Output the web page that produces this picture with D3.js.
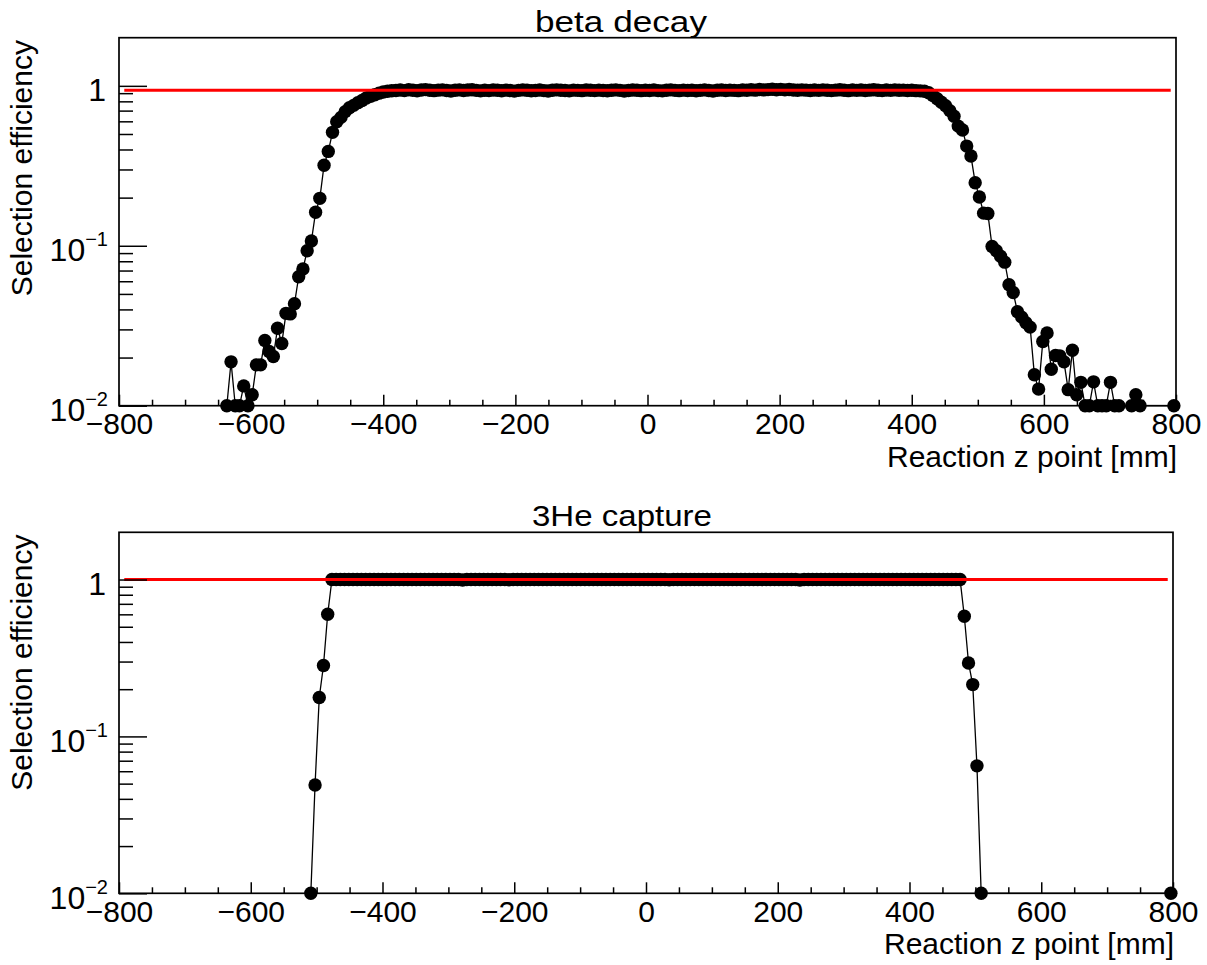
<!DOCTYPE html>
<html>
<head>
<meta charset="utf-8">
<script src="https://cdn.jsdelivr.net/npm/d3@7"></script>
<style>
  html, body { margin: 0; padding: 0; background: #fff; }
  svg { display: block; }
  text { font-family: "Liberation Sans", Arial, Helvetica, sans-serif; fill: #000; }
</style>
</head>
<body>
<svg id="chart" width="1207" height="965"></svg>
<script>
// z binning: 250 bins of 6.4 mm between -800 and 800 mm
const zLow = -800;
const binWidth = 6.4;

const xMajorTicks = [-800, -600, -400, -200, 0, 200, 400, 600, 800];
const xTickLabels = ["\u2212800", "\u2212600", "\u2212400", "\u2212200", "0", "200", "400", "600", "800"];
const yMajorTicks = [0.01, 0.1, 1];
const yTickExponents = [-2, -1, 0];
const yMinorTicks = [0.02, 0.03, 0.04, 0.05, 0.06, 0.07, 0.08, 0.09, 0.2, 0.3, 0.4, 0.5, 0.6, 0.7, 0.8, 0.9];

const panelTitles = ["beta decay", "3He capture"];
const xTitle = "Reaction z point [mm]";
const yTitle = "Selection efficiency";

// beta decay: efficiency per bin, starting at bin 25 (null = bin not in graph, 0 = empty efficiency)
const betaFirstBin = 25;
const betaEff = [
  0, 0.0188, 0, 0, 0.0133, 0, 0.0117, 0.018, 0.018, 0.0256,
  0.0218, 0.0203, 0.0305, 0.0245, 0.0378, 0.0375, 0.0434, 0.064, 0.0715, 0.093,
  0.107, 0.162, 0.198, 0.319, 0.389, 0.512, 0.596, 0.635, 0.69, 0.73,
  0.755, 0.785, 0.81, 0.84, 0.86, 0.88, 0.9, 0.915, 0.925, 0.932,
  0.936, 0.942, 0.934, 0.945, 0.939, 0.931, 0.941, 0.947, 0.938, 0.933,
  0.940, 0.944, 0.936, 0.929, 0.938, 0.943, 0.935, 0.941, 0.946, 0.937,
  0.930, 0.939, 0.934, 0.942, 0.938, 0.932, 0.940, 0.935, 0.927, 0.937,
  0.943, 0.938, 0.931, 0.936, 0.941, 0.934, 0.929, 0.938, 0.944, 0.939,
  0.935, 0.930, 0.940, 0.937, 0.933, 0.942, 0.938, 0.934, 0.940, 0.936,
  0.931, 0.939, 0.943, 0.937, 0.929, 0.935, 0.941, 0.938, 0.933, 0.939,
  0.936, 0.942, 0.934, 0.930, 0.938, 0.944, 0.937, 0.933, 0.940, 0.935,
  0.939, 0.932, 0.937, 0.943, 0.936, 0.929, 0.938, 0.941, 0.935, 0.940,
  0.937, 0.933, 0.942, 0.938, 0.945, 0.940, 0.949, 0.943, 0.947, 0.952,
  0.946, 0.951, 0.944, 0.948, 0.942, 0.938, 0.944, 0.940, 0.935, 0.941,
  0.937, 0.943, 0.939, 0.934, 0.940, 0.945, 0.938, 0.933, 0.941, 0.937,
  0.942, 0.936, 0.940, 0.945, 0.939, 0.934, 0.941, 0.937, 0.943, 0.938,
  0.940, 0.935, 0.938, 0.933, 0.930,
  0.925, 0.905, 0.87, 0.83, 0.79, 0.75, 0.70, 0.645, 0.56, 0.53,
  0.42, 0.364, 0.248, 0.202, 0.16, 0.159, 0.099, 0.093, 0.086, 0.079,
  0.057, 0.051, 0.0387, 0.0358, 0.033, 0.031, 0.0156, 0.0127, 0.0252, 0.0285,
  0.0169, 0.0206, 0.0205, 0.0188, 0.0126, 0.0222, 0.0117, 0.014, 0, 0,
  0.0141, 0, 0, 0, 0.014, 0, 0, null, null, 0,
  0.0117, 0, null, null, null, null, null, null, null, 0
];
const betaFit = 0.937;

// 3He capture: efficiency per bin, starting at bin 45
const he3FirstBin = 45;
const he3Eff = [
  0, 0.049, 0.177, 0.283, 0.601,
  1, 1, 1, 1, 1, 1, 1, 1, 1, 1, 1, 1, 1, 1, 1,
  1, 1, 1, 1, 1, 1, 1, 1, 1, 1, 1, 1, 1, 1, 1,
  1, 0.993, 1, 1, 1, 1, 1, 1, 1, 1, 1, 1, 0.997, 1, 1,
  1, 1, 1, 1, 1, 1, 1, 1, 1, 1, 1, 1, 1, 1, 1,
  1, 1, 1, 1, 1, 1, 1, 1, 1, 1, 1, 1, 1, 1, 1,
  1, 1, 1, 1, 1, 0.997, 1, 1, 1, 1, 1, 1, 1, 1, 1,
  1, 1, 1, 1, 1, 1, 1, 1, 1, 1, 1, 1, 1, 1, 1,
  1, 1, 1, 1, 1, 1, 0.994, 1, 1, 1, 1, 1, 1, 1, 1,
  1, 1, 1, 1, 1, 1, 1, 1, 1, 1, 1, 1, 1, 1, 1,
  1, 1, 1, 1, 1, 1, 1, 1, 1, 1, 1, 1, 1, 1, 1,
  0.583, 0.294, 0.214, 0.0649, 0,
  null, null, null, null, null, null, null, null, null, null, null,
  null, null, null, null, null, null, null, null, null, null, null,
  null, null, null, null, null, null, null, null, null, null, null,
  null, null, null, null, null, null, null, null, null, null, null,
  0
];
const he3Fit = 1.0;

const fitRange = [-792, 792];

const panels = [
  { title: panelTitles[0], firstBin: betaFirstBin, eff: betaEff, fit: betaFit,
    left: 119, right: 1176, top: 37.7, bottom: 405.7,
    titleX: 535, titleY: 32, titleLen: 172, xTitleY: 466.5, yTitleEnd: 40 },
  { title: panelTitles[1], firstBin: he3FirstBin, eff: he3Eff, fit: he3Fit,
    left: 119, right: 1173, top: 532.3, bottom: 893.3,
    titleX: 532, titleY: 525.5, titleLen: 180, xTitleY: 954, yTitleEnd: 534.5 }
];

const yMin = 0.01, yMax = 2;
const svg = d3.select("#chart");
svg.append("rect").attr("width", 1207).attr("height", 965).attr("fill", "#fff");

panels.forEach(p => {
  const g = svg.append("g");
  const x = d3.scaleLinear().domain([-800, 800]).range([p.left, p.right]);
  const y = d3.scaleLog().domain([yMin, yMax]).range([p.bottom, p.top]);

  const pts = [];
  p.eff.forEach((v, i) => {
    if (v === null) return;
    pts.push({ z: zLow + binWidth * (p.firstBin + i + 0.5), v: v });
  });
  const yv = v => y(Math.max(v, yMin));

  // connecting line
  g.append("path")
    .datum(pts)
    .attr("fill", "none")
    .attr("stroke", "#000")
    .attr("stroke-width", 1.3)
    .attr("d", d3.line().x(d => x(d.z)).y(d => yv(d.v)));

  // markers
  g.append("g").selectAll("circle")
    .data(pts)
    .join("circle")
    .attr("cx", d => x(d.z))
    .attr("cy", d => yv(d.v))
    .attr("r", 6.7)
    .attr("fill", "#000");

  // constant fit
  g.append("path")
    .datum(fitRange.map(z => ({ z: z, v: p.fit })))
    .attr("fill", "none")
    .attr("stroke", "#ff0000")
    .attr("stroke-width", 3)
    .attr("d", d3.line().x(d => x(d.z)).y(d => y(d.v)));

  // x axis: major and minor ticks pointing into the frame
  const xAxis = g.append("g")
    .attr("transform", `translate(0,${p.bottom})`)
    .call(d3.axisBottom(x).tickValues(xMajorTicks).tickSize(-11).tickPadding(7)
      .tickFormat((d, i) => xTickLabels[i]));
  xAxis.select(".domain").remove();
  xAxis.selectAll(".tick line").attr("stroke", "#000").attr("stroke-width", 1.5);
  xAxis.selectAll(".tick text").attr("font-size", 30).attr("font-family", "Liberation Sans, Arial, sans-serif");

  const xMinor = d3.range(-800, 801, 50).filter(v => xMajorTicks.indexOf(v) < 0);
  const xAxisMinor = g.append("g")
    .attr("transform", `translate(0,${p.bottom})`)
    .call(d3.axisBottom(x).tickValues(xMinor).tickSize(-6).tickFormat(""));
  xAxisMinor.select(".domain").remove();
  xAxisMinor.selectAll(".tick line").attr("stroke", "#000").attr("stroke-width", 1.5);

  // y axis (log)
  const yAxis = g.append("g")
    .attr("transform", `translate(${p.left},0)`)
    .call(d3.axisLeft(y).tickValues(yMajorTicks).tickSize(-28).tickFormat(""));
  yAxis.select(".domain").remove();
  yAxis.selectAll(".tick line").attr("stroke", "#000").attr("stroke-width", 1.5);
  yAxis.selectAll(".tick text").each(function (d, i) {
    const t = d3.select(this);
    const e = yTickExponents[i];
    t.text(null).attr("dy", null).attr("y", 15)
      .attr("font-size", 32).attr("font-family", "Liberation Sans, Arial, sans-serif")
      .attr("text-anchor", "end");
    if (e === 0) {
      t.attr("x", -13).text("1");
    } else {
      t.attr("x", -11);
      t.append("tspan").text("10");
      t.append("tspan").attr("dy", -15).attr("font-size", 20).text("\u2212" + Math.abs(e));
    }
  });

  const yAxisMinor = g.append("g")
    .attr("transform", `translate(${p.left},0)`)
    .call(d3.axisLeft(y).tickValues(yMinorTicks).tickSize(-14).tickFormat(""));
  yAxisMinor.select(".domain").remove();
  yAxisMinor.selectAll(".tick line").attr("stroke", "#000").attr("stroke-width", 1.5);

  // frame
  g.append("rect")
    .attr("x", p.left).attr("y", p.top)
    .attr("width", p.right - p.left).attr("height", p.bottom - p.top)
    .attr("fill", "none").attr("stroke", "#000").attr("stroke-width", 1.7);

  // titles
  g.append("text")
    .attr("x", p.titleX).attr("y", p.titleY)
    .attr("font-size", 29)
    .attr("textLength", p.titleLen).attr("lengthAdjust", "spacingAndGlyphs")
    .text(p.title);

  g.append("text")
    .attr("x", p.right + 1).attr("y", p.xTitleY)
    .attr("text-anchor", "end")
    .attr("font-size", 29)
    .attr("textLength", 290).attr("lengthAdjust", "spacingAndGlyphs")
    .text(xTitle);

  g.append("text")
    .attr("transform", `translate(31.7,${p.yTitleEnd}) rotate(-90)`)
    .attr("text-anchor", "end")
    .attr("font-size", 30)
    .text(yTitle);
});
</script>
</body>
</html>
